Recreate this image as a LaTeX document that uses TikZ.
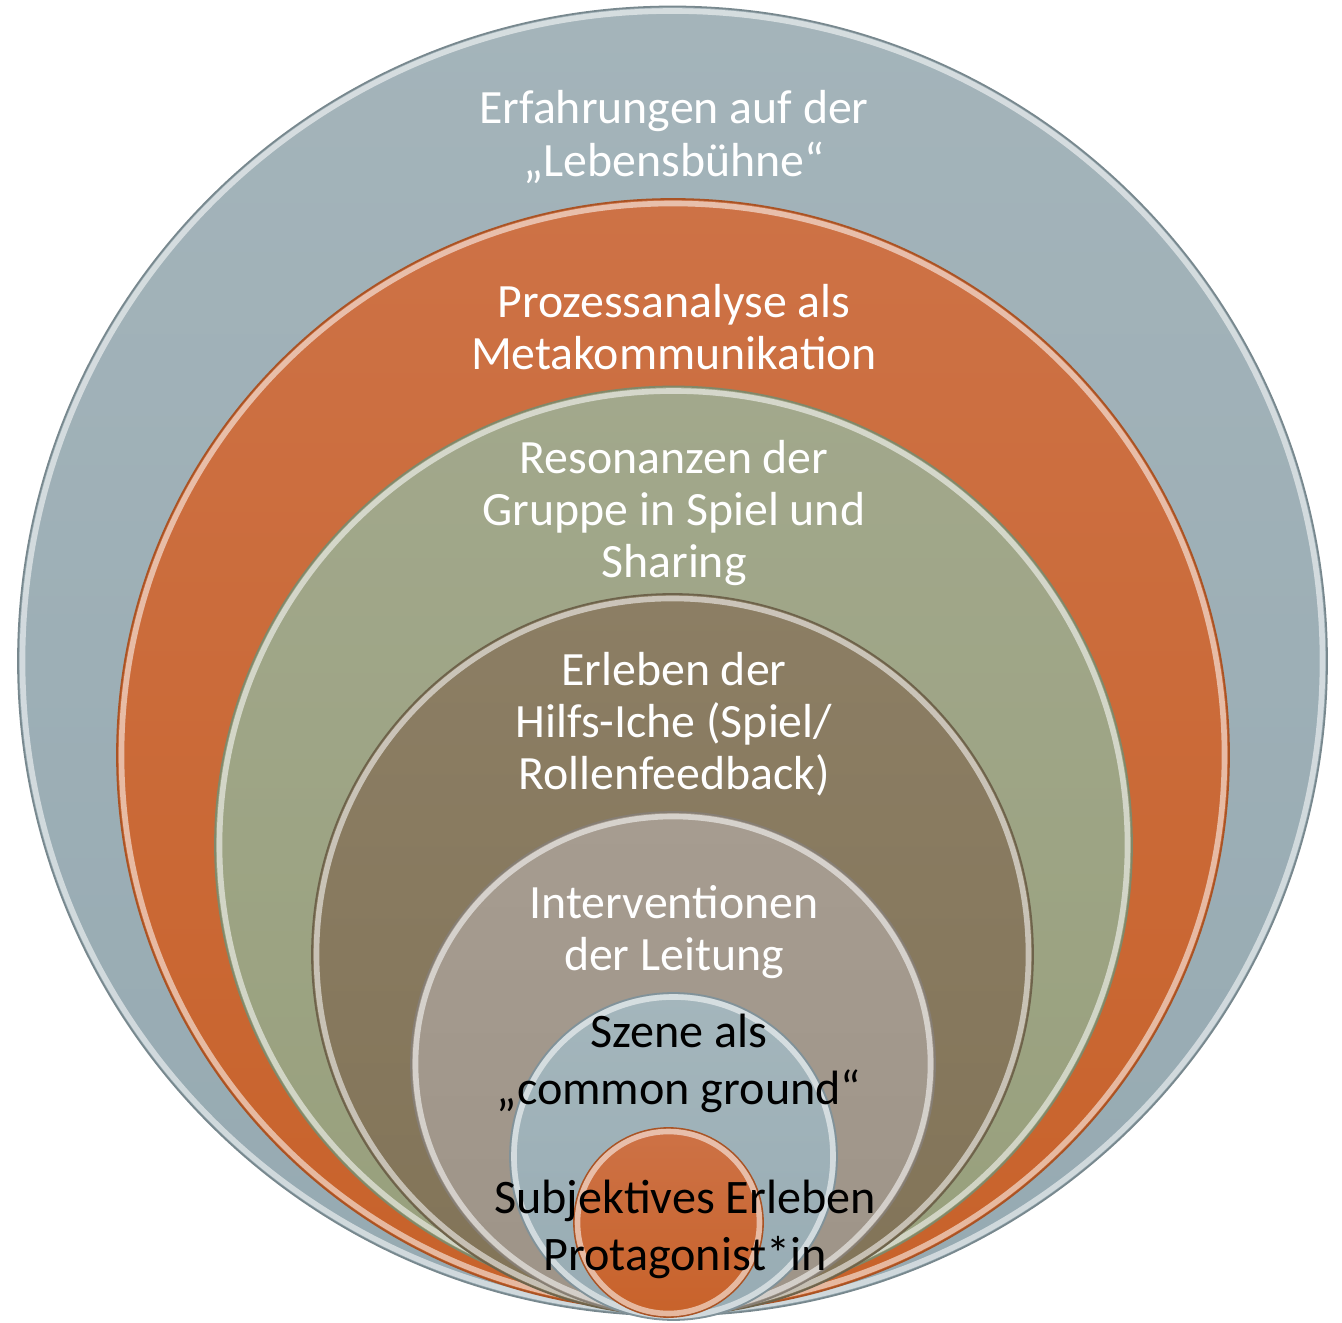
\documentclass[tikz,border=0pt]{standalone}
\usepackage{fontspec}
\setmainfont{Carlito}

\definecolor{greytop}{RGB}{164,180,186}
\definecolor{greybot}{RGB}{150,170,178}
\definecolor{rusttop}{RGB}{205,114,70}
\definecolor{rustbot}{RGB}{200,98,42}
\definecolor{sagetop}{RGB}{162,168,140}
\definecolor{sagebot}{RGB}{152,160,124}
\definecolor{umbertop}{RGB}{140,126,100}
\definecolor{umberbot}{RGB}{130,116,88}
\definecolor{taupetop}{RGB}{166,156,144}
\definecolor{taupebot}{RGB}{158,148,136}
\definecolor{skytop}{RGB}{164,182,188}
\definecolor{skybot}{RGB}{152,172,180}

\tikzset{
  rimlight/.style={draw=white, draw opacity=0.55, line width=1.6pt},
  rimedge/.style={draw=#1, line width=0.5pt},
  whitetext/.style={text=white, align=center, inner sep=0pt,
    font=\fontsize{13.6}{14.8}\selectfont},
  blacktext/.style={text=black, align=center, inner sep=0pt,
    font=\fontsize{13.7}{16.2}\selectfont}
}

\begin{document}
\begin{tikzpicture}
\useasboundingbox (0,0) rectangle (13.42,-13.23);
% Lebensbuehne
\shade [top color=greytop, bottom color=greybot] (6.725,-6.61) circle (6.545);
\draw [rimedge=greybot!80!black] (6.725,-6.61) circle (6.545);
\draw [rimlight] (6.725,-6.61) circle (6.50);
% Prozessanalyse
\shade [top color=rusttop, bottom color=rustbot] (6.73,-7.55) circle (5.56);
\draw [rimedge=rustbot!85!black] (6.73,-7.55) circle (5.56);
\draw [rimlight] (6.73,-7.55) circle (5.515);
% Resonanzen
\shade [top color=sagetop, bottom color=sagebot] (6.735,-8.45) circle (4.585);
\draw [rimedge=sagebot!85!black] (6.735,-8.45) circle (4.585);
\draw [rimlight] (6.735,-8.45) circle (4.54);
% Hilfs-Iche
\shade [top color=umbertop, bottom color=umberbot] (6.725,-9.545) circle (3.605);
\draw [rimedge=umberbot!85!black] (6.725,-9.545) circle (3.605);
\draw [rimlight] (6.725,-9.545) circle (3.56);
% Leitung
\shade [top color=taupetop, bottom color=taupebot] (6.73,-10.64) ellipse [x radius=2.62, y radius=2.52];
\draw [rimedge=taupebot!85!black] (6.73,-10.64) ellipse [x radius=2.62, y radius=2.52];
\draw [rimlight] (6.73,-10.64) ellipse [x radius=2.575, y radius=2.475];
% Szene
\shade [top color=skytop, bottom color=skybot] (6.735,-11.565) circle (1.635);
\draw [rimedge=skybot!85!black] (6.735,-11.565) circle (1.635);
\draw [rimlight] (6.735,-11.565) circle (1.595);
% Protagonist
\shade [top color=rusttop, bottom color=rustbot] (6.685,-12.225) circle (0.945);
\draw [rimedge=rustbot!85!black] (6.685,-12.225) circle (0.945);
\draw [rimlight] (6.685,-12.225) circle (0.91);

\node [whitetext] (lebensbuehne) at (6.74,-1.37) {Erfahrungen auf der\\„Lebensbühne“};
\node [whitetext] (prozess) at (6.74,-3.27) {Prozessanalyse als\\Metakommunikation};
\node [whitetext] (resonanz) at (6.74,-5.13) {Resonanzen der\\Gruppe in Spiel und\\Sharing};
\node [whitetext] (hilfsiche) at (6.74,-7.24) {Erleben der\\Hilfs-Iche (Spiel/\\Rollenfeedback)};
\node [whitetext] (leitung) at (6.74,-9.32) {Interventionen\\der Leitung};
\node [blacktext] (szene) at (6.79,-10.63) {Szene als\\„common ground“};
\node [blacktext] (subjekt) at (6.85,-12.29) {Subjektives Erleben\\Protagonist*in};
\end{tikzpicture}
\end{document}
